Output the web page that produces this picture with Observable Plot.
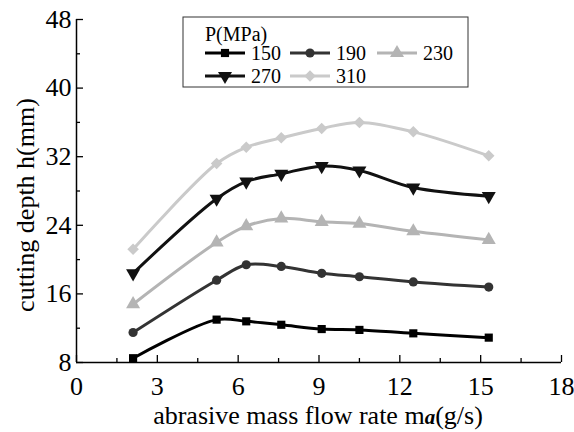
<!DOCTYPE html>
<html>
<head>
<meta charset="utf-8">
<script src="https://cdn.jsdelivr.net/npm/d3@7"></script>
<script src="https://cdn.jsdelivr.net/npm/@observablehq/plot@0.6"></script>
<style>
  html, body { margin: 0; padding: 0; background: #fff; }
</style>
</head>
<body>
<div id="chart"></div>
<script>
// ---- data ----
const flowRate = [2.1, 5.2, 6.3, 7.6, 9.1, 10.5, 12.5, 15.3];
const pressures = ["150", "190", "230", "270", "310"];
const depth150 = [8.5, 13.0, 12.8, 12.4, 11.9, 11.8, 11.4, 10.9];
const depth190 = [11.5, 17.6, 19.4, 19.2, 18.4, 18.0, 17.4, 16.8];
const depth230 = [14.8, 22.0, 23.9, 24.8, 24.4, 24.2, 23.3, 22.3];
const depth270 = [18.4, 27.1, 29.1, 30.0, 30.9, 30.4, 28.4, 27.4];
const depth310 = [21.2, 31.2, 33.1, 34.2, 35.3, 36.0, 34.9, 32.1];
const xTicks = [0, 3, 6, 9, 12, 15, 18];
const xMinor = [1.5, 4.5, 7.5, 10.5, 13.5, 16.5];
const yTicks = [8, 16, 24, 32, 40, 48];
const yMinor = [12, 20, 28, 36, 44];
const xTitle = "abrasive mass flow rate m";
const xTitleItalic = "a";
const xTitleEnd = "(g/s)";
const yTitle = "cutting depth h(mm)";
const legendTitle = "P(MPa)";

const FONT = "'Liberation Serif', 'Times New Roman', serif";

const triangleDown = {
  draw(context, size) {
    const y = -Math.sqrt(size / (3 * Math.sqrt(3)));
    context.moveTo(0, -y * 2);
    context.lineTo(-Math.sqrt(3) * y, y);
    context.lineTo(Math.sqrt(3) * y, y);
    context.closePath();
  }
};
const styles = {
  "150": {color: "#000000", symbol: d3.symbolSquare, r: 4.6},
  "190": {color: "#333333", symbol: d3.symbolCircle, r: 4.6},
  "230": {color: "#b4b4b4", symbol: d3.symbolTriangle, r: 5.2},
  "270": {color: "#111111", symbol: triangleDown, r: 5.2},
  "310": {color: "#cacaca", symbol: d3.symbolDiamond2, r: 5.2}
};
const seriesValues = {"150": depth150, "190": depth190, "230": depth230, "270": depth270, "310": depth310};
const rows = pressures.flatMap(p => flowRate.map((x, i) => ({p, x, y: seriesValues[p][i]})));

const marks = [];
for (const p of pressures) {
  const d = rows.filter(r => r.p === p);
  const s = styles[p];
  marks.push(Plot.line(d, {x: "x", y: "y", stroke: s.color, strokeWidth: 3, curve: "catmull-rom"}));
  marks.push(Plot.dot(d, {x: "x", y: "y", fill: s.color, stroke: "none", symbol: s.symbol, r: s.r}));
}

const chart = Plot.plot({
  width: 574,
  height: 432,
  marginLeft: 76,
  marginRight: 13,
  marginTop: 19,
  marginBottom: 70,
  style: {background: "#fff", fontFamily: FONT},
  x: {domain: [0, 18]},
  y: {domain: [8, 48]},
  marks: [
    ...marks,
    Plot.ruleX([0], {stroke: "#000", strokeWidth: 1.5}),
    Plot.ruleY([8], {stroke: "#000", strokeWidth: 1.5}),
    Plot.axisX(xTicks, {tickSize: -7, text: null, strokeWidth: 1.3, label: null}),
    Plot.axisX(xMinor, {tickSize: -4, text: null, strokeWidth: 1.3, label: null}),
    Plot.axisX(xTicks, {tickSize: 0, tickPadding: 14, fontSize: 26, fill: "#000", label: null}),
    Plot.axisY(yTicks, {tickSize: -7, text: null, strokeWidth: 1.3, label: null}),
    Plot.axisY(yMinor, {tickSize: -4, text: null, strokeWidth: 1.3, label: null}),
    Plot.axisY(yTicks, {tickSize: 0, tickPadding: 5, fontSize: 26, fill: "#000", label: null}),
    Plot.text([yTitle], {frameAnchor: "left", textAnchor: "middle", dx: -51, dy: 14, rotate: -90, fontSize: 26, fill: "#000"})
  ]
});
document.getElementById("chart").appendChild(chart);

// x-axis title with italic "a"
const svg = d3.select(chart);
const xt = svg.append("text")
  .attr("x", 318).attr("y", 424)
  .attr("text-anchor", "middle")
  .attr("font-size", 26)
  .attr("fill", "#000");
xt.append("tspan").text(xTitle);
xt.append("tspan").attr("font-style", "italic").attr("font-weight", "bold").attr("font-size", 21).text(xTitleItalic);
xt.append("tspan").text(xTitleEnd);

// legend
const lg = svg.append("g").attr("font-size", 20).attr("fill", "#000");
lg.append("rect").attr("x", 183).attr("y", 17).attr("width", 285).attr("height", 70)
  .attr("fill", "#fff").attr("stroke", "#333").attr("stroke-width", 1);
lg.append("text").attr("x", 205).attr("y", 41).attr("text-anchor", "start").text(legendTitle);
const legendPos = [[205, 53], [290, 53], [377, 53], [205, 76], [290, 76]];
pressures.forEach((p, i) => {
  const [lx, ly] = legendPos[i];
  const s = styles[p];
  lg.append("line").attr("x1", lx).attr("x2", lx + 40).attr("y1", ly).attr("y2", ly)
    .attr("stroke", s.color).attr("stroke-width", 3);
  lg.append("path").attr("transform", `translate(${lx + 20},${ly})`)
    .attr("d", d3.symbol(s.symbol, Math.PI * s.r * s.r)())
    .attr("fill", s.color);
  lg.append("text").attr("x", lx + 46).attr("y", ly + 7).attr("text-anchor", "start").text(p);
});

// force the serif face on every text element
svg.selectAll("text, tspan").style("font-family", FONT);
</script>
</body>
</html>
